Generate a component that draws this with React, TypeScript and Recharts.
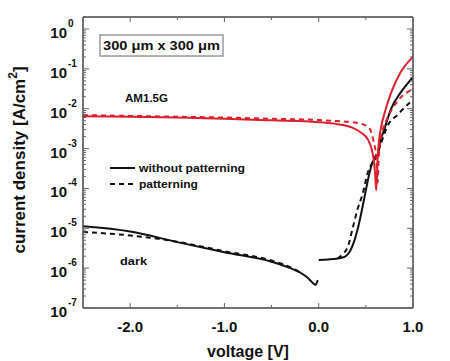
import React from "react";
import { ComposedChart, Line, XAxis, YAxis, Customized } from "recharts";

// dark, without patterning (reverse branch and forward branch)
const darkRevV = [-2.5, -2.0, -1.5, -1.0, -0.5, -0.3, -0.2, -0.12, -0.06, -0.035, -0.01];
const darkRevJ = [1.12e-5, 8.3e-6, 4.5e-6, 2.5e-6, 1.45e-6, 1.0e-6, 7.8e-7, 5.8e-7, 4.2e-7, 3.8e-7, 5.0e-7];
const darkFwdV = [0.0, 0.1, 0.2, 0.28, 0.33, 0.37, 0.43, 0.48, 0.53, 0.57, 0.624, 0.66, 0.695, 0.766, 0.872, 1.0];
const darkFwdJ = [1.6e-6, 1.65e-6, 1.75e-6, 1.95e-6, 2.6e-6, 4.3e-6, 1.4e-5, 5.2e-5, 2.0e-4, 4.5e-4, 6.5e-4, 1.7e-3, 3.0e-3, 9.8e-3, 0.026, 0.062];

// dark, patterning
const darkPatRevV = [-2.5, -2.0, -1.5, -1.0, -0.5, -0.3, -0.2];
const darkPatRevJ = [8.1e-6, 6.6e-6, 4.6e-6, 2.65e-6, 1.55e-6, 1.05e-6, 7.9e-7];
const darkPatFwdV = [0.2, 0.25, 0.31, 0.36, 0.41, 0.47, 0.52, 0.57, 0.64, 0.73, 0.84, 1.0];
const darkPatFwdJ = [1.75e-6, 2.2e-6, 3.5e-6, 1.0e-5, 2.9e-5, 7.9e-5, 2.5e-4, 4.5e-4, 1.0e-3, 3.7e-3, 7.2e-3, 0.017];

// AM1.5G, without patterning
const lightV = [-2.5, -2.0, -1.5, -1.0, -0.5, 0.0, 0.2, 0.35, 0.45, 0.52, 0.56, 0.585, 0.6, 0.61, 0.625, 0.64, 0.66, 0.7, 0.77, 0.87, 1.0];
const lightJ = [6.5e-3, 6.3e-3, 6.0e-3, 5.6e-3, 5.1e-3, 4.6e-3, 4.1e-3, 3.4e-3, 2.5e-3, 1.7e-3, 1.0e-3, 5.0e-4, 2.0e-4, 9.0e-5, 6.0e-4, 1.6e-3, 3.3e-3, 8.0e-3, 0.026, 0.083, 0.2];

// AM1.5G, patterning
const lightPatV = [-2.5, -2.0, -1.5, -1.0, -0.5, 0.0, 0.2, 0.35, 0.45, 0.53, 0.58, 0.61, 0.625, 0.635, 0.65, 0.68, 0.71, 0.77, 0.84, 1.0];
const lightPatJ = [6.9e-3, 6.6e-3, 6.3e-3, 6.0e-3, 5.6e-3, 5.2e-3, 4.9e-3, 4.6e-3, 4.2e-3, 3.4e-3, 1.6e-3, 6.0e-4, 1.4e-4, 5.0e-4, 1.3e-3, 3.0e-3, 4.6e-3, 9.0e-3, 0.016, 0.031];

const xTicks = [-2.0, -1.5, -1.0, -0.5, 0.0, 0.5, 1.0];
const xLabels = ["-2.0", "", "-1.0", "", "0.0", "", "1.0"];
const yMajor = [1e-7, 1e-6, 1e-5, 1e-4, 1e-3, 1e-2, 1e-1, 1];
const yMinorSteps = [2, 3, 4, 5, 6, 7, 8, 9];

const yTicks: number[] = [];
yMajor.forEach((m) => {
  yTicks.push(m);
  yMinorSteps.forEach((s) => {
    if (m * s <= 2) yTicks.push(m * s);
  });
});

const pts = (v: number[], j: number[]) => v.map((x, i) => ({ v: x, j: j[i] }));

const FONT = "'Liberation Sans', Arial, Helvetica, sans-serif";
const RED = "#dc1e2d";
const BLACK = "#111";
const AXIS = "#444";
const TICK = "#666";

const isMajor = (v: number) => Math.abs(Math.log10(v) - Math.round(Math.log10(v))) < 1e-6;

const LeftTick = (p: any) => {
  const { x, y, payload } = p;
  const major = isMajor(payload.value);
  const exp = Math.round(Math.log10(payload.value));
  return (
    <g>
      <line x1={x} x2={x + (major ? 6 : 3)} y1={y} y2={y} stroke={TICK} strokeWidth={1} />
      {major && (
        <g fontFamily={FONT} fontWeight="bold" fill="#111">
          <text x={x - 16} y={y + 9} fontSize={15} textAnchor="end">10</text>
          <text x={x - 15} y={y - 2} fontSize={10}>{exp}</text>
        </g>
      )}
    </g>
  );
};

const RightTick = (p: any) => {
  const { x, y, payload } = p;
  const major = isMajor(payload.value);
  return <line x1={x} x2={x - (major ? 6 : 3)} y1={y} y2={y} stroke={TICK} strokeWidth={1} />;
};

const BottomTick = (p: any) => {
  const { x, y, index } = p;
  const major = xLabels[index] !== "";
  return (
    <g>
      <line x1={x} x2={x} y1={y} y2={y - (major ? 5 : 3)} stroke={TICK} strokeWidth={1} />
      {major && (
        <text x={x} y={y + 24} fontSize={15} fontWeight="bold" fontFamily={FONT} textAnchor="middle" fill="#111">
          {xLabels[index]}
        </text>
      )}
    </g>
  );
};

const TopTick = (p: any) => {
  const { x, y, index } = p;
  const major = xLabels[index] !== "";
  return <line x1={x} x2={x} y1={y} y2={y + (major ? 5 : 3)} stroke={TICK} strokeWidth={1} />;
};

const Notes = () => (
  <g fontFamily={FONT} fontWeight="bold" fill="#111">
    <rect x={100} y={35} width={123} height={21} fill="#fff" stroke="#999" strokeWidth={1.5} />
    <text x={103} y={50} fontSize={13} textLength={117} lengthAdjust="spacingAndGlyphs">300 μm x 300 μm</text>
    <text x={125} y={102} fontSize={10} textLength={43} lengthAdjust="spacingAndGlyphs">AM1.5G</text>
    <line x1={110} x2={135} y1={168} y2={168} stroke={BLACK} strokeWidth={2} />
    <text x={139} y={172} fontSize={11} textLength={106} lengthAdjust="spacingAndGlyphs">without patterning</text>
    <line x1={110} x2={135} y1={184} y2={184} stroke={BLACK} strokeWidth={2} strokeDasharray="5 4" />
    <text x={139} y={188} fontSize={11} textLength={59} lengthAdjust="spacingAndGlyphs">patterning</text>
    <text x={120} y={265} fontSize={11} textLength={27} lengthAdjust="spacingAndGlyphs">dark</text>
    <text x={248} y={357} fontSize={16} textAnchor="middle">voltage [V]</text>
    <text transform="translate(25,160) rotate(-90)" fontSize={17} textAnchor="middle">
      current density [A/cm<tspan dy={-8} fontSize={12}>2</tspan><tspan dy={8}>]</tspan>
    </text>
  </g>
);

export default function App() {
  const common = { xAxisId: "b", yAxisId: "l", dataKey: "j", type: "monotone" as const, dot: false, isAnimationActive: false, strokeWidth: 2 };
  return (
    <div style={{ position: "absolute", left: 0, top: 0, background: "#fff" }}>
      <ComposedChart width={450} height={361} margin={{ top: 16, right: 36, left: 0, bottom: 0 }}>
        <XAxis xAxisId="b" type="number" dataKey="v" domain={[-2.5, 1]} ticks={xTicks} interval={0}
          allowDataOverflow height={53} tickSize={0} tickMargin={0} tickLine={false}
          tick={<BottomTick />} axisLine={{ stroke: AXIS, strokeWidth: 1.5 }} />
        <XAxis xAxisId="t" orientation="top" type="number" dataKey="v" domain={[-2.5, 1]} ticks={xTicks} interval={0}
          allowDataOverflow height={1} tickSize={0} tickMargin={0} tickLine={false}
          tick={<TopTick />} axisLine={{ stroke: AXIS, strokeWidth: 1.5 }} />
        <YAxis yAxisId="l" type="number" scale="log" domain={[1e-7, 2]} ticks={yTicks} interval={0}
          allowDataOverflow width={83} tickSize={0} tickMargin={0} tickLine={false}
          tick={<LeftTick />} axisLine={{ stroke: AXIS, strokeWidth: 1.5 }} />
        <YAxis yAxisId="r" orientation="right" type="number" scale="log" domain={[1e-7, 2]} ticks={yTicks} interval={0}
          allowDataOverflow width={1} tickSize={0} tickMargin={0} tickLine={false}
          tick={<RightTick />} axisLine={{ stroke: AXIS, strokeWidth: 1.5 }} />
        <Line {...common} data={pts(darkPatRevV, darkPatRevJ)} stroke={BLACK} strokeDasharray="5 4" />
        <Line {...common} data={pts(darkPatFwdV, darkPatFwdJ)} stroke={BLACK} strokeDasharray="5 4" />
        <Line {...common} data={pts(darkRevV, darkRevJ)} stroke={BLACK} />
        <Line {...common} data={pts(darkFwdV, darkFwdJ)} stroke={BLACK} />
        <Line {...common} data={pts(lightPatV, lightPatJ)} stroke={RED} strokeDasharray="5 4" />
        {/* same domains on the mirror axes, so this series also makes the top and right frame draw */}
        <Line {...common} xAxisId="t" yAxisId="r" data={pts(lightV, lightJ)} stroke={RED} />
        <Customized component={Notes} />
      </ComposedChart>
    </div>
  );
}
